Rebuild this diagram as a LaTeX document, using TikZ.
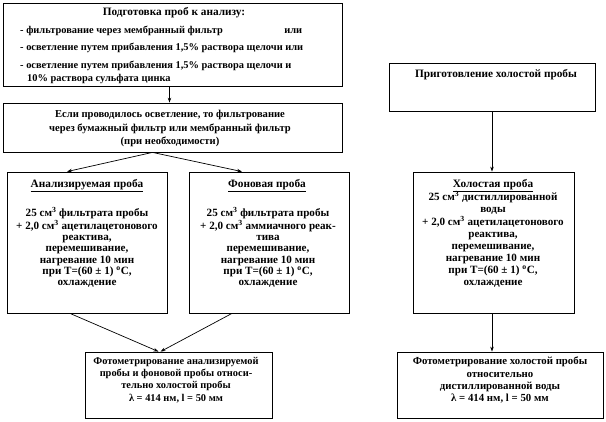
\documentclass[tikz,border=0pt]{standalone}
\usepackage{fontspec}
\setmainfont{Liberation Serif}
\usetikzlibrary{arrows.meta}
\begin{document}
\begin{tikzpicture}[x=1pt,y=-1pt,
  boxst/.style={draw, line width=0.8pt, inner sep=0pt},
  txt/.style={inner sep=0pt, font=\fontsize{10.4}{11.3}\selectfont\bfseries},
  bodytxt/.style={inner sep=0pt, align=center, anchor=north, font=\fontsize{11.1}{11.33}\selectfont\bfseries},
  ttl/.style={inner sep=0pt, font=\fontsize{11.3}{12}\selectfont\bfseries},
  arr/.style={line width=0.7pt, -{Stealth[length=5pt,width=3.5pt]}}]
\useasboundingbox (0,0) rectangle (606,422);
\fill[white] (0,0) rectangle (606,422);
% boxes
\node[boxst, minimum width=339pt, minimum height=83pt] (b1) at (172.5,44.5) {};
\node[boxst, minimum width=339pt, minimum height=49pt] (b2) at (172.5,127.5) {};
\node[boxst, minimum width=160pt, minimum height=141pt] (b3) at (87,242.5) {};
\node[boxst, minimum width=160pt, minimum height=141pt] (b4) at (269,242.5) {};
\node[boxst, minimum width=206pt, minimum height=48pt] (b5) at (492,87) {};
\node[boxst, minimum width=161pt, minimum height=141pt] (b6) at (493.5,242.5) {};
\node[boxst, minimum width=187pt, minimum height=66pt] (b7) at (178.5,385) {};
\node[boxst, minimum width=206pt, minimum height=66pt] (b8) at (500,385) {};
% box 1 text
\node[ttl] (t1) at (174,13) {Подготовка проб к анализу:};
\node[txt, anchor=west] (t1a) at (20,31) {\makebox[282pt][l]{- фильтрование через мембранный фильтр\hfill или}};
\node[txt, anchor=west] (t1b) at (20,48) {- осветление путем прибавления 1,5\% раствора щелочи или};
\node[txt, anchor=west] (t1c) at (20,66) {- осветление путем прибавления 1,5\% раствора щелочи и};
\node[txt, anchor=west] (t1d) at (27,79) {10\% раствора сульфата цинка};
% box 2 text
\node[txt, align=center, anchor=north, font=\fontsize{10.6}{13.5}\selectfont\bfseries] (t2) at (170,110) {Если проводилось осветление, то фильтрование\\через бумажный фильтр или мембранный фильтр\\(при необходимости)};
% box 3
\node[ttl] (t3t) at (87,186) {\underline{Анализируемая проба}};
\node[bodytxt] (t3) at (87,207.5) {25 см\textsuperscript{3} фильтрата пробы\\+ 2,0 см\textsuperscript{3} ацетилацетонового\\реактива,\\перемешивание,\\нагревание 10 мин\\при T=(60 ± 1) \textsuperscript{o}C,\\охлаждение};
% box 4
\node[ttl] (t4t) at (267,186) {\underline{Фоновая проба}};
\node[bodytxt] (t4) at (268,207.5) {25 см\textsuperscript{3} фильтрата пробы\\+ 2,0 см\textsuperscript{3} аммиачного реак-\\тива\\перемешивание,\\нагревание 10 мин\\при T=(60 ± 1) \textsuperscript{o}C,\\охлаждение};
% box 5
\node[ttl] (t5) at (496,75) {Приготовление холостой пробы};
% box 6
\node[ttl] (t6t) at (493,186) {\underline{Холостая проба}};
\node[bodytxt, font=\fontsize{11.1}{12.1}\selectfont\bfseries] (t6) at (493,191.5) {25 см\textsuperscript{3} дистиллированной\\воды\\+ 2,0 см\textsuperscript{3} ацетилацетонового\\реактива,\\перемешивание,\\нагревание 10 мин\\при T=(60 ± 1) \textsuperscript{o}C,\\охлаждение};
% box 7
\node[bodytxt, font=\fontsize{10.4}{12.3}\selectfont\bfseries] (t7) at (176,357) {Фотометрирование анализируемой\\пробы и фоновой пробы относи-\\тельно холостой пробы\\λ = 414 нм, l = 50 мм};
% box 8
\node[bodytxt, font=\fontsize{10.8}{12.3}\selectfont\bfseries] (t8) at (500,357) {Фотометрирование холостой пробы\\относительно\\дистиллированной воды\\λ = 414 нм, l = 50 мм};
% arrows
\draw[arr] ([xshift=-3pt]b1.south) -- ([xshift=-3pt]b2.north);
\draw[arr] ([xshift=-20pt]b2.south) -- ([xshift=-20pt]b3.north);
\draw[arr] ([xshift=-20pt]b2.south) -- ([xshift=-27pt]b4.north);
\draw[arr] ([xshift=-17pt]b3.south) -- ([xshift=-20pt]b7.north);
\draw[arr] ([xshift=-37pt]b4.south) -- ([xshift=-18pt]b7.north);
\draw[arr] (b5.south) -- (b5.south |- b6.north);
\draw[arr] (b6.south -| b5.south) -- (b5.south |- b8.north);
\end{tikzpicture}
\end{document}
